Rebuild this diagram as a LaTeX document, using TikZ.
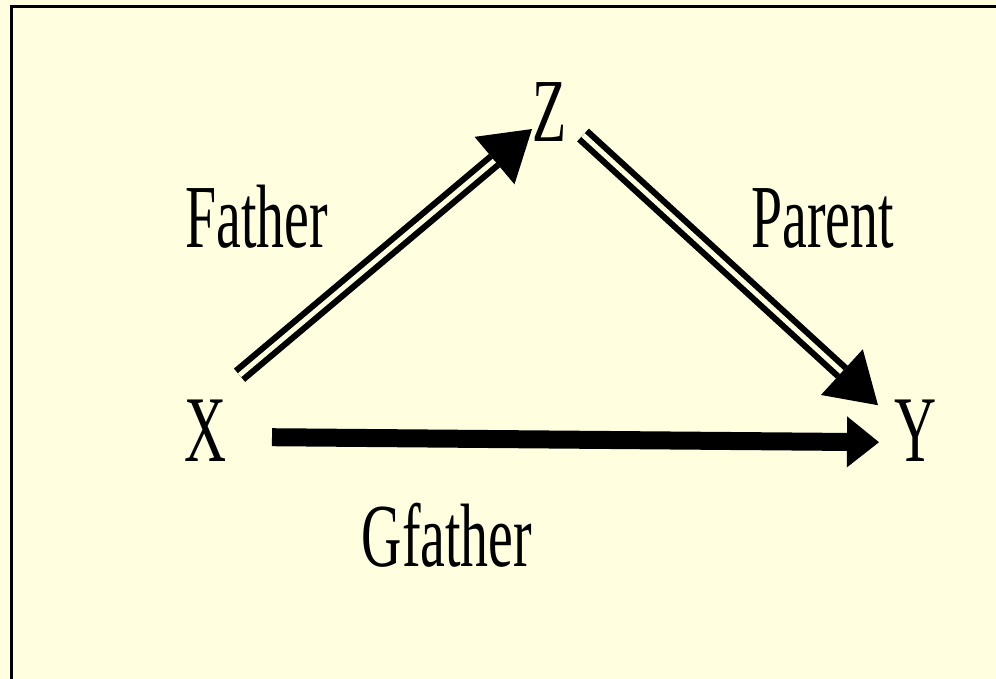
\documentclass[tikz,border=0pt]{standalone}
\usepackage{fontspec}
\newfontfamily\labelfont[FakeStretch=0.62]{Liberation Serif}
\usetikzlibrary{arrows.meta, calc}
\definecolor{paper}{RGB}{255,255,224}

\begin{document}
\begin{tikzpicture}[x=1pt, y=1pt,
        lbl/.style={inner sep=0pt, anchor=base, font=\labelfont\fontsize{90}{90}\selectfont},
        var/.style={lbl, font=\labelfont\fontsize{94}{94}\selectfont},
        dbl/.style={double=paper, double distance=5pt, line width=6.2pt, -{Triangle[length=49pt, width=62pt, line width=0pt]}},
        fat/.style={line width=18pt, -{Triangle[length=32pt, width=51pt, line width=0pt]}}]
    \useasboundingbox (0,0) rectangle (996,679);
    \fill[paper] (0,0) rectangle (996,679);
    \draw[line width=3.5pt] (1000,672.5) -| (11.5,-5);
    % nodes
    \node[var] (X) at (206,217) {X};
    \node[var] (Y) at (915.5,217) {Y};
    \node[lbl] (Z) at (550,537) {Z};
    \node[lbl] (father)  at (256.5,431) {Father};
    \node[lbl] (parent)  at (822.5,431) {Parent};
    \node[lbl] (gfather) at (447,112) {Gfather};
    % links
    \draw[dbl] ([shift={(33.5,56)}]X.center) -- ([shift={(-18,-16.5)}]Z.center);
    \draw[dbl] ([shift={(33,-22.5)}]Z.center) -- ([shift={(-37.5,26)}]Y.center);
    \draw[fat] ([shift={(66,-6)}]X.center) -- ([shift={(-36.5,-11)}]Y.center);
\end{tikzpicture}
\end{document}
